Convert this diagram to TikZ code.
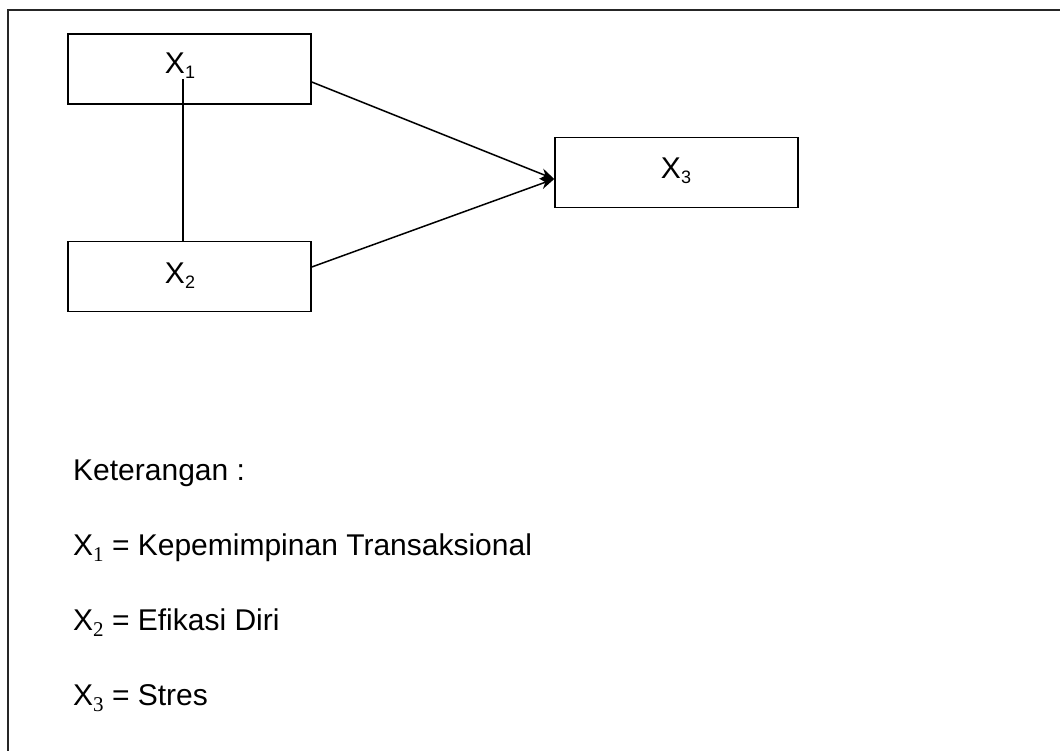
\documentclass[tikz,border=0pt]{standalone}
\usepackage{fontspec}
\setmainfont{Liberation Sans}
\newfontfamily\subfont{Liberation Serif}
\usetikzlibrary{arrows.meta}
\newcommand{\boxsub}[1]{{\fontsize{18}{18}\selectfont\raisebox{-5pt}{#1}}}
\newcommand{\legsub}[1]{{\subfont\fontsize{21}{21}\selectfont\raisebox{-6pt}{#1}}}
\tikzset{
  frameline/.style={line width=2pt, draw=black!85},
  box/.style={draw, line width=1.5pt, rectangle, minimum width=243pt, minimum height=70pt, inner sep=0pt},
  boxlabel/.style={inner sep=0pt, anchor=base, font=\fontsize{30}{30}\selectfont},
  legend/.style={inner sep=0pt, anchor=base west, font=\fontsize{30}{30}\selectfont},
  conn/.style={line width=1.5pt},
  arr/.style={conn, -{Stealth[length=14pt, width=11pt]}}
}
\begin{document}
\begin{tikzpicture}[x=1pt, y=-1pt]
\useasboundingbox (0,0) rectangle (1060,751);
% outer frame (cropped)
\draw[frameline] (1060,10) -- (8,10) -- (8,751);
% boxes
\node[box] (b1) at (189.5,69) {};
\node[box] (b2) at (189.5,276.5) {};
\node[box] (b3) at (676.5,172.5) {};
% labels
\node[boxlabel] (l1) at (180,74) {X\boxsub{1}};
\node[boxlabel] (l2) at (180,284) {X\boxsub{2}};
\node[boxlabel] (l3) at (676,179) {X\boxsub{3}};
% connectors
\coordinate (s1) at (b1.east |- 0,82);
\coordinate (s2) at (b2.east |- 0,267);
\coordinate (tip) at (b3.west |- 0,179);
\draw[conn] (183,79) -- (183,0 |- b2.north);
\draw[arr] (s1) -- (tip);
\draw[arr] (s2) -- (tip);
% legend
\node[legend] (k) at (73,480) {Keterangan :};
\node[legend] (k1) at (73,555) {X\legsub{1} = Kepemimpinan Transaksional};
\node[legend] (k2) at (73,630) {X\legsub{2} = Efikasi Diri};
\node[legend] (k3) at (73,705) {X\legsub{3} = Stres};
\end{tikzpicture}
\end{document}
